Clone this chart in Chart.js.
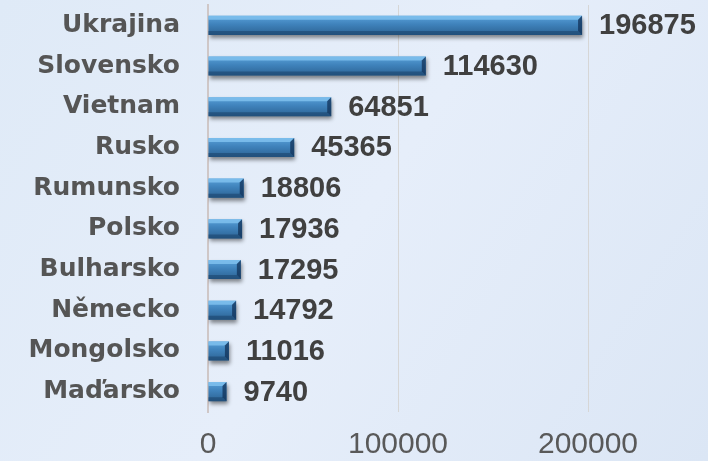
<!DOCTYPE html>
<html>
<head>
<meta charset="utf-8">
<script src="https://cdn.jsdelivr.net/npm/chart.js@4/dist/chart.umd.min.js"></script>
<style>
  html, body { margin: 0; padding: 0; }
  body { width: 708px; height: 461px; overflow: hidden; }
  #wrap { width: 708px; height: 461px; position: relative; }
</style>
</head>
<body>
<div id="wrap"><canvas id="myChart"></canvas></div>
<script>
//-----data-----
const categories = ['Ukrajina', 'Slovensko', 'Vietnam', 'Rusko', 'Rumunsko', 'Polsko', 'Bulharsko', 'Německo', 'Mongolsko', 'Maďarsko'];
const values = [196875, 114630, 64851, 45365, 18806, 17936, 17295, 14792, 11016, 9740];
const xTicks = [0, 100000, 200000];
const xMax = 250000;

//-----background-----
const bgPlugin = {
    id: 'bg',
    beforeDraw(chart) {
        const c = chart.ctx;
        const g = c.createLinearGradient(0, 0, chart.width, chart.height);
        g.addColorStop(0, '#dfeaf7');
        g.addColorStop(0.5, '#e6eefa');
        g.addColorStop(1, '#dbe6f5');
        c.save();
        c.fillStyle = g;
        c.fillRect(0, 0, chart.width, chart.height);
        c.restore();
    }
};

//-----bar shadow + bevel + value labels-----
const barFx = {
    id: 'barFx',
    beforeDatasetsDraw(chart) {
        const c = chart.ctx;
        c.save();
        c.shadowColor = 'rgba(0,0,0,0.45)';
        c.shadowBlur = 4;
        c.shadowOffsetX = 1;
        c.shadowOffsetY = 3;
    },
    afterDatasetsDraw(chart) {
        const c = chart.ctx;
        c.restore();
        const meta = chart.getDatasetMeta(0);
        c.save();
        meta.data.forEach((bar, i) => {
            const left = bar.base, right = bar.x;
            const top = bar.y - bar.height / 2, bottom = bar.y + bar.height / 2;
            const b = 4;
            // top bevel
            c.fillStyle = 'rgba(130,195,240,0.8)';
            c.beginPath();
            c.moveTo(left, top); c.lineTo(right, top); c.lineTo(right - b, top + b); c.lineTo(left, top + b);
            c.closePath(); c.fill();
            // bottom bevel
            c.fillStyle = 'rgba(25,65,105,0.55)';
            c.beginPath();
            c.moveTo(left, bottom); c.lineTo(right, bottom); c.lineTo(right - b, bottom - b); c.lineTo(left, bottom - b);
            c.closePath(); c.fill();
            // right bevel
            c.fillStyle = 'rgba(18,50,88,0.75)';
            c.beginPath();
            c.moveTo(right, top); c.lineTo(right, bottom); c.lineTo(right - b, bottom - b); c.lineTo(right - b, top + b);
            c.closePath(); c.fill();

            // value label
            c.fillStyle = '#404040';
            c.font = 'bold 29px "Liberation Sans", Arial, sans-serif';
            c.textAlign = 'left';
            c.textBaseline = 'middle';
            c.fillText(String(values[i]), right + 17, bar.y + 1);
        });
        c.restore();
    }
};

const ctx = document.getElementById('myChart').getContext('2d');
const data = {
    labels: categories,
    datasets: [{
        data: values,
        backgroundColor: (context) => {
            const chart = context.chart;
            const yScale = chart.scales.y;
            if (!yScale || context.dataIndex === undefined) return '#3f82bb';
            const yc = yScale.getPixelForValue(context.dataIndex);
            if (!isFinite(yc)) return '#3f82bb';
            const h = 10;
            const g = chart.ctx.createLinearGradient(0, yc - h, 0, yc + h);
            g.addColorStop(0, '#5aa2da');
            g.addColorStop(0.45, '#3f82bb');
            g.addColorStop(1, '#2b6191');
            return g;
        },
        borderWidth: 0,
        categoryPercentage: 1,
        barPercentage: 0.47,
    }],
};

const config = {
    type: 'bar',
    data: data,
    options: {
        indexAxis: 'y',
        responsive: true,
        maintainAspectRatio: false,
        animation: false,
        layout: { padding: { top: 5, right: 25, left: 0, bottom: 0 } },
        plugins: {
            legend: { display: false },
            tooltip: { enabled: false },
        },
        scales: {
            x: {
                min: 0,
                max: xMax,
                afterBuildTicks: (axis) => {
                    axis.ticks = xTicks.map(v => ({ value: v }));
                },
                afterFit: (scale) => { scale.height = 49; },
                grid: { color: '#d6d6d6', lineWidth: 1, drawTicks: false },
                border: { display: false },
                ticks: {
                    padding: 18,
                    color: '#595959',
                    font: { family: '"Liberation Sans", Arial, sans-serif', size: 30, lineHeight: 1 },
                    maxRotation: 0,
                    callback: (v) => String(v),
                },
            },
            y: {
                afterFit: (scale) => {
                    scale.width = 208;
                    scale.paddingTop = 0;
                    scale.paddingBottom = 0;
                },
                grid: { display: false, drawTicks: false },
                border: { display: true, color: '#cfc7c7', width: 2 },
                ticks: {
                    padding: 28,
                    color: '#555555',
                    font: { family: '"DejaVu Sans", sans-serif', size: 25, weight: 'bold' },
                },
            },
        },
    },
    plugins: [bgPlugin, barFx],
};

const sensorsChart = new Chart(ctx, config);
</script>
</body>
</html>
